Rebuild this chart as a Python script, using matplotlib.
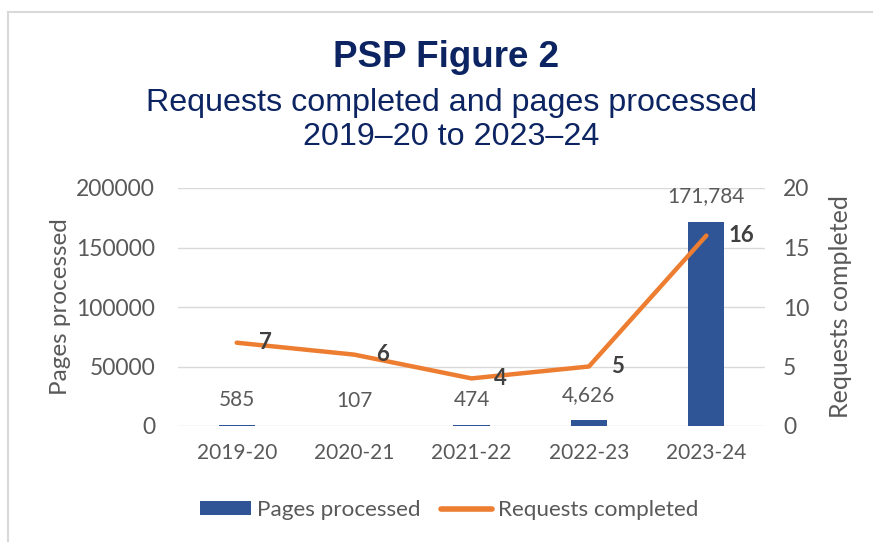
import matplotlib.pyplot as plt
from matplotlib.lines import Line2D
from matplotlib.patches import Patch

# Data
years = ['2019-20', '2020-21', '2021-22', '2022-23', '2023-24']
pages = [585, 107, 474, 4626, 171784]
requests = [7, 6, 4, 5, 16]

bar_color = '#2F5597'
line_color = '#ED7D31'
text_color = '#595959'
title_color = '#0C2461'
font = 'Lato'

fig = plt.figure(figsize=(8.73, 5.42), dpi=100)
ax = fig.add_axes([178 / 873, 1 - 426 / 542, (765 - 178) / 873, (426 - 188) / 542])
ax2 = ax.twinx()

x = list(range(len(years)))
ax.bar(x, pages, width=0.31, color=bar_color, zorder=2)
ax.set_ylim(0, 200000)
ax.set_xlim(-0.5, len(years) - 0.5)
ax.set_yticks([0, 50000, 100000, 150000, 200000])
ax.set_yticklabels(['0', '50000', '100000', '150000', '200000'])
ax.yaxis.grid(True, color='#D9D9D9', linewidth=1)
ax.set_axisbelow(True)
ax.set_xticks(x)
ax.set_xticklabels(years)

ax2.plot(x, requests, color=line_color, linewidth=3.2, solid_capstyle='round',
         solid_joinstyle='round', zorder=3)
ax2.set_ylim(0, 20)
ax2.set_yticks([0, 5, 10, 15, 20])

for a in (ax, ax2):
    for s in a.spines.values():
        s.set_visible(False)
    a.tick_params(length=0, colors=text_color, labelsize=15)
    a.tick_params(axis='y', labelsize=16.5)
    for lbl in a.get_xticklabels() + a.get_yticklabels():
        lbl.set_fontfamily(font)
ax.tick_params(axis='y', pad=16.5)
ax.tick_params(axis='x', pad=12)
ax2.tick_params(axis='y', pad=13)

ax.set_ylabel('Pages processed', fontsize=17.5, color=text_color, family=font, labelpad=4)
ax2.set_ylabel('Requests completed', fontsize=18, color=text_color, family=font, labelpad=14)

# bar labels
for xi, v in zip(x, pages):
    ax.annotate(f'{v:,}', (xi, v), xytext=(0, 18), textcoords='offset points',
                ha='center', va='center', fontsize=15, color=text_color, family=font)

# line labels
for xi, v in zip(x, requests):
    ax2.annotate(str(v), (xi, v), xytext=(16, 0), textcoords='offset points',
                 ha='left', va='center', fontsize=16, fontweight='bold',
                 color='#404040', family=font, zorder=4)

# titles
fig.text(446 / 873, 1 - 67 / 542, 'PSP Figure 2', ha='center', va='baseline',
         fontsize=26.5, fontweight='bold', color=title_color, family='Liberation Sans')
fig.text(451 / 873, 1 - 111 / 542, 'Requests completed and pages processed', ha='center',
         va='baseline', fontsize=23.2, color=title_color, family='Liberation Sans')
fig.text(451 / 873, 1 - 145 / 542, '2019\u201320 to 2023\u201324', ha='center',
         va='baseline', fontsize=23.2, color=title_color, family='Liberation Sans')

# legend
handles = [Patch(facecolor=bar_color, label='Pages processed'),
           Line2D([0], [0], color=line_color, linewidth=4, solid_capstyle='round',
                  label='Requests completed')]
leg = fig.legend(handles=handles, loc='center', bbox_to_anchor=(449 / 873, 1 - 510 / 542),
                 ncol=2, frameon=False, handlelength=2.3, handleheight=0.55,
                 handletextpad=0.25, columnspacing=0.9,
                 prop={'family': font, 'size': 16.2})
for t in leg.get_texts():
    t.set_color(text_color)

# outer border
fig.add_artist(Line2D([8 / 873, 8 / 873], [0, 1 - 12 / 542], transform=fig.transFigure,
                      color='#D9D9D9', linewidth=1.5))
fig.add_artist(Line2D([8 / 873, 1], [1 - 12 / 542, 1 - 12 / 542], transform=fig.transFigure,
                      color='#D9D9D9', linewidth=1.5))

fig.savefig('out.png', dpi=100)
